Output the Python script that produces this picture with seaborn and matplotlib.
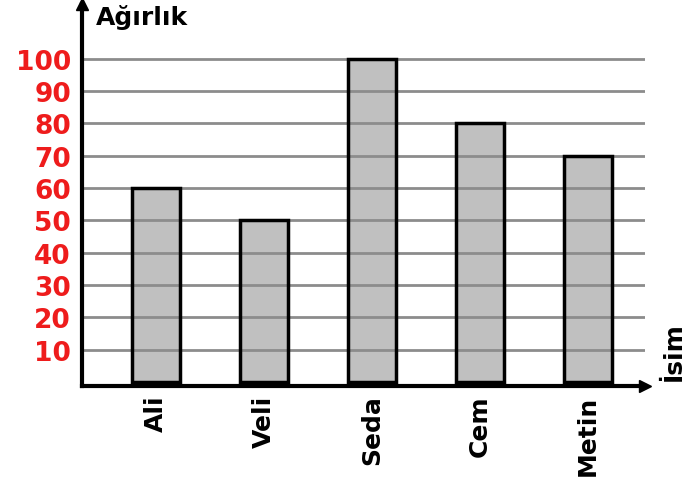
import matplotlib
matplotlib.use("Agg")
import matplotlib.pyplot as plt
import seaborn as sns
import pandas as pd

isimler = ["Ali", "Veli", "Seda", "Cem", "Metin"]
agirlik = [60, 50, 100, 80, 70]
y_ticks = [10, 20, 30, 40, 50, 60, 70, 80, 90, 100]

data = pd.DataFrame({"isim": isimler, "agirlik": agirlik})

sns.set_style("white")
plt.rcParams["font.family"] = ["DejaVu Sans"]
plt.rcParams["text.color"] = "black"

fig = plt.figure(figsize=(6.9, 4.89), dpi=100)
ax = fig.add_axes([82 / 690, (489 - 387) / 489, (645 - 82) / 690, (387 - 5) / 489])

# fill below the grid, outline above it
sns.barplot(ax=ax, data=data, x="isim", y="agirlik", width=0.44, errorbar=None,
            color="#c0c0c0", saturation=1, linewidth=0, zorder=1)
sns.barplot(ax=ax, data=data, x="isim", y="agirlik", width=0.44, errorbar=None,
            facecolor="none", edgecolor="black", linewidth=2.5, zorder=3)

ax.set_xlim(-0.685, 4.528)
ax.set_ylim(-1.24, 116.9)

ax.set_yticks(y_ticks)
ax.set_yticklabels([str(t) for t in y_ticks], color="#ee1c1c", fontweight="bold", fontsize=19)
ax.tick_params(axis="y", direction="inout", length=14, width=2, color="black", pad=1)
ax.tick_params(axis="x", length=0, pad=6, labelcolor="black")
for lbl in ax.get_xticklabels():
    lbl.set_rotation(90)
    lbl.set_fontweight("bold")
    lbl.set_fontsize(18)

ax.yaxis.grid(True, color="#8c8c8c", linewidth=2)
ax.xaxis.grid(False)
ax.set_axisbelow(False)

for s in ["top", "right"]:
    ax.spines[s].set_visible(False)
for s in ["left", "bottom"]:
    ax.spines[s].set_linewidth(3)
    ax.spines[s].set_color("black")
    ax.spines[s].set_zorder(5)

# arrow heads
ax.plot(1, 0, ">", color="black", markersize=8, transform=ax.transAxes, clip_on=False, zorder=6)
ax.plot(0, 1, "^", color="black", markersize=8, transform=ax.transAxes, clip_on=False, zorder=6)

ax.set_xlabel("")
ax.set_ylabel("")
fig.text(96 / 690, 1 - 18 / 489, "Ağırlık", fontsize=18, fontweight="bold", color="black",
         va="center", ha="left")
fig.text(674 / 690, 1 - 352 / 489, "İsim", fontsize=18, fontweight="bold", color="black",
         rotation=90, va="center", ha="center")

fig.savefig("out.png", dpi=100)
